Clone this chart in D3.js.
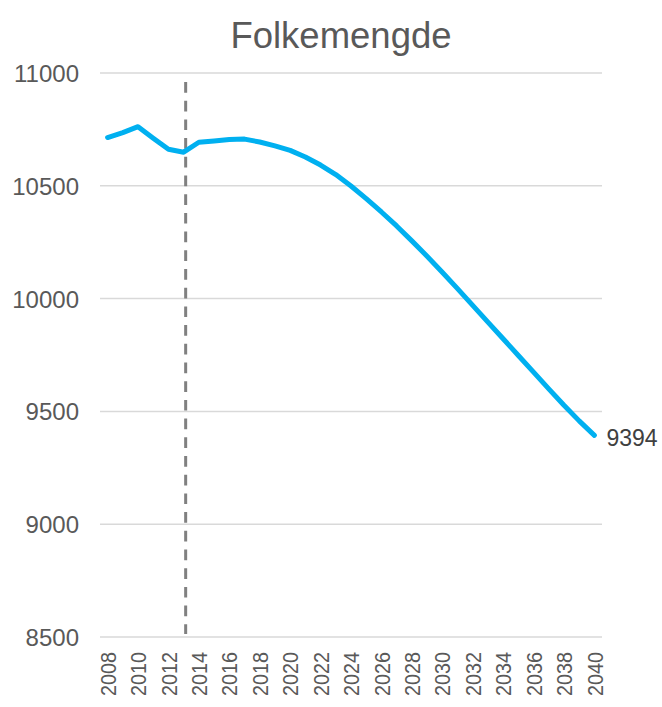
<!DOCTYPE html>
<html>
<head>
<meta charset="utf-8">
<script src="https://cdn.jsdelivr.net/npm/d3@7"></script>
<style>
  html, body { margin: 0; padding: 0; background: #fff; }
  svg { display: block; font-family: "Liberation Sans", Arial, sans-serif; }
</style>
</head>
<body>
<svg id="chart" width="662" height="707"></svg>
<script>
// Population by year (registered up to 2013, projected afterwards)
const years = [2008, 2009, 2010, 2011, 2012, 2013, 2014, 2015, 2016, 2017, 2018,
               2019, 2020, 2021, 2022, 2023, 2024, 2025, 2026, 2027, 2028, 2029,
               2030, 2031, 2032, 2033, 2034, 2035, 2036, 2037, 2038, 2039, 2040];
const population = [10714, 10736, 10762, 10711, 10662, 10649, 10693, 10699, 10705, 10707, 10694,
                    10677, 10657, 10628, 10592, 10550, 10499, 10443, 10384, 10322, 10256, 10188,
                    10117, 10044, 9970, 9896, 9822, 9748, 9674, 9600, 9527, 9458, 9394];
const yTicks = [8500, 9000, 9500, 10000, 10500, 11000];
const xTickYears = [2008, 2010, 2012, 2014, 2016, 2018, 2020, 2022, 2024,
                    2026, 2028, 2030, 2032, 2034, 2036, 2038, 2040];
const splitYear = 2013;
const title = "Folkemengde";

const svg = d3.select("#chart");
const textColor = "#595959";
const plot = { left: 100, right: 602, top: 73, bottom: 637 };

const x = d3.scaleBand().domain(years).range([plot.left, plot.right]);
const cx = d => x(d) + x.bandwidth() / 2;
const y = d3.scaleLinear().domain([8500, 11000]).range([plot.bottom, plot.top]);

// Title
svg.append("text")
  .attr("x", 341).attr("y", 48)
  .attr("text-anchor", "middle")
  .attr("font-size", 36.5)
  .attr("fill", textColor)
  .text(title);

// Horizontal gridlines
svg.append("g")
  .selectAll("line")
  .data(yTicks)
  .join("line")
  .attr("x1", plot.left).attr("x2", plot.right)
  .attr("y1", d => y(d)).attr("y2", d => y(d))
  .attr("stroke", "#d9d9d9")
  .attr("stroke-width", 1.5);

// Y axis labels
const yAxis = d3.axisLeft(y).tickValues(yTicks).tickSize(0).tickPadding(0).tickFormat(d3.format("d"));
const gy = svg.append("g").attr("transform", `translate(79,0)`).call(yAxis);
gy.select(".domain").remove();
gy.selectAll("text")
  .attr("font-size", 24)
  .attr("font-family", "Liberation Sans, Arial, sans-serif")
  .attr("fill", textColor)
  .attr("dy", "0.35em");

// X axis labels, rotated
const xAxis = d3.axisBottom(x).tickValues(xTickYears).tickSize(0).tickPadding(0);
const gx = svg.append("g").attr("transform", `translate(0,652)`).call(xAxis);
gx.select(".domain").remove();
gx.selectAll("text")
  .attr("font-size", 22.5)
  .attr("font-family", "Liberation Sans, Arial, sans-serif")
  .attr("fill", textColor)
  .attr("transform", "rotate(-90)")
  .attr("text-anchor", "end")
  .attr("x", 0)
  .attr("y", 0)
  .attr("dy", "0.36em")
  .attr("textLength", 44)
  .attr("lengthAdjust", "spacingAndGlyphs");

// Dashed marker separating history from projection
svg.append("line")
  .attr("x1", cx(splitYear) + 2).attr("x2", cx(splitYear) + 2)
  .attr("y1", 82).attr("y2", plot.bottom - 3)
  .attr("stroke", "#808080")
  .attr("stroke-width", 3)
  .attr("stroke-dasharray", "10.7 8");

// Population line
const line = d3.line()
  .x((d, i) => cx(years[i]))
  .y(d => y(d));

svg.append("path")
  .datum(population)
  .attr("d", line)
  .attr("fill", "none")
  .attr("stroke", "#00b0f0")
  .attr("stroke-width", 5)
  .attr("stroke-linejoin", "round")
  .attr("stroke-linecap", "round");

// End value label
const lastIdx = population.length - 1;
svg.append("text")
  .attr("x", cx(years[lastIdx]) + 12)
  .attr("y", y(population[lastIdx]) + 3)
  .attr("dy", "0.35em")
  .attr("font-size", 23)
  .attr("fill", "#404040")
  .text(population[lastIdx]);
</script>
</body>
</html>
